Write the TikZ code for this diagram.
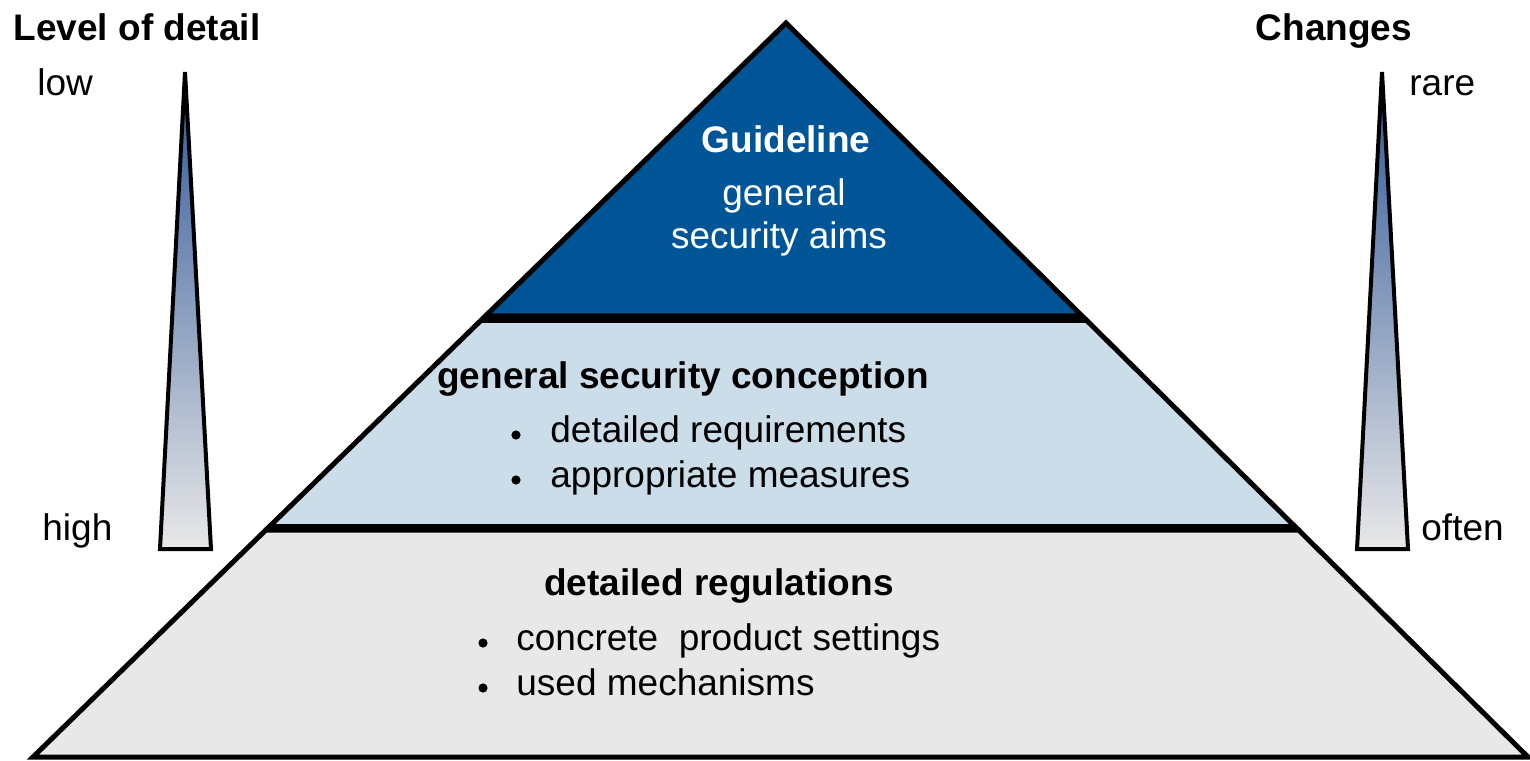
\documentclass[tikz,border=0pt]{standalone}
\usepackage{fontspec}
\setmainfont{Liberation Sans}
\usetikzlibrary{calc}

\definecolor{guideblue}{RGB}{0,85,150}
\definecolor{conceptblue}{RGB}{203,221,233}
\definecolor{regulgray}{RGB}{232,232,232}
\definecolor{wedgeblue}{RGB}{45,85,150}

\begin{document}
\begin{tikzpicture}[x=0.5pt,y=-0.5pt]
\tikzstyle{layer} = [draw=black, line width=2.5pt, line join=miter]
\tikzstyle{wedge} = [draw=black, line width=2pt, top color=wedgeblue, bottom color=regulgray]
\tikzstyle{head} = [font=\fontsize{18.5}{22}\selectfont\bfseries, inner sep=0pt, anchor=base]
\tikzstyle{txt} = [font=\fontsize{18.5}{22}\selectfont, inner sep=0pt, anchor=base]
\tikzstyle{item} = [txt, anchor=base west]
\tikzstyle{dot} = [circle, fill=black, inner sep=0pt, minimum size=4.6pt]

\useasboundingbox (0,0) rectangle (1530,760);

\coordinate (apex) at (786,23);
\coordinate (bl) at (33,757);
\coordinate (br) at (1528,757);

% bottom layer
\draw[layer, fill=regulgray] ($(apex)!0.691!(bl)$) -- ($(apex)!0.691!(br)$) -- (br) -- (bl) -- cycle;
% middle layer
\draw[layer, fill=conceptblue] ($(apex)!0.405!(bl)$) -- ($(apex)!0.405!(br)$)
  -- ($(apex)!0.686!(br)$) -- ($(apex)!0.686!(bl)$) -- cycle;
% top layer
\draw[layer, fill=guideblue] (apex) -- ($(apex)!0.399!(br)$) -- ($(apex)!0.399!(bl)$) -- cycle;

% wedges
\draw[wedge] (185,72) -- (211,549) -- (160,549) -- cycle;
\draw[wedge] (1382,72) -- (1408,549) -- (1357,549) -- cycle;

% side labels
\node[head] (detail) at (137,40) {Level of detail};
\node[head] (changes) at (1334,40) {Changes};
\node[item] (low) at (37,95) {low};
\node[item] (high) at (42,540) {high};
\node[item] (rare) at (1409,95) {rare};
\node[item] (often) at (1421,540) {often};

% top layer text
\node[head, text=white] (guide) at (786,152) {Guideline};
\node[txt, text=white] (aims1) at (784,205) {general};
\node[txt, text=white] (aims2) at (779,248) {security aims};

% middle layer text
\node[head] (concept) at (683,388) {general security conception};
\node[dot] (b1) at (516,435) {};
\node[item] (req) at (550,442) {detailed requirements};
\node[dot] (b2) at (516,480) {};
\node[item] (meas) at (550,487) {appropriate measures};

% bottom layer text
\node[head] (regul) at (719,595) {detailed regulations};
\node[dot] (b3) at (483,643) {};
\node[item] (sett) at (516,650) {concrete\ \ product settings};
\node[dot] (b4) at (483,688) {};
\node[item] (mech) at (516,695) {used mechanisms};
\end{tikzpicture}
\end{document}
